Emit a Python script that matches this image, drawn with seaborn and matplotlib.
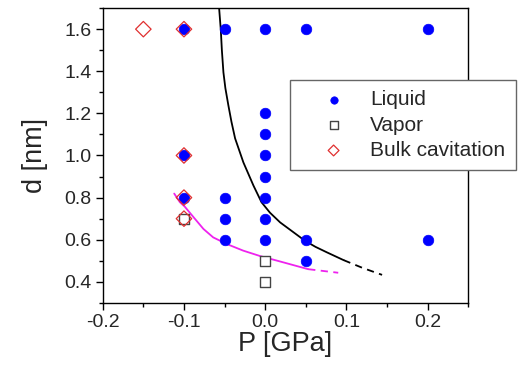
import numpy as np
import pandas as pd
import matplotlib
matplotlib.use("Agg")
import matplotlib.pyplot as plt
from matplotlib.ticker import MultipleLocator
import seaborn as sns

# simulation states (P in GPa, d in nm)
liquid_p = [-0.1, -0.05, 0.0, 0.05, 0.2, 0.0, 0.0, 0.0, 0.0, -0.1,
            0.0, -0.1, -0.05, -0.05, 0.0, -0.05, 0.0, 0.05, 0.05, 0.2]
liquid_d = [1.6, 1.6, 1.6, 1.6, 1.6, 1.2, 1.1, 1.0, 0.9, 1.0,
            0.8, 0.8, 0.8, 0.7, 0.7, 0.6, 0.6, 0.6, 0.5, 0.6]
vapor_p = [-0.1, 0.0, 0.0]
vapor_d = [0.7, 0.5, 0.4]
bulk_p = [-0.15, -0.1, -0.1, -0.1, -0.1]
bulk_d = [1.6, 1.6, 1.0, 0.8, 0.7]

# boundary lines
black_p = [-0.0567, -0.0557, -0.0546, -0.0533, -0.0514, -0.049, -0.0453, -0.0415, -0.037,
           -0.0268, -0.0144, -0.0045, 0.006, 0.0185, 0.035, 0.049, 0.062, 0.076, 0.0966]
black_d = [1.70, 1.65, 1.595, 1.50, 1.395, 1.32, 1.238, 1.16, 1.081,
           0.967, 0.857, 0.778, 0.728, 0.682, 0.635, 0.595, 0.566, 0.54, 0.503]
black_dash_p = [0.0966, 0.12, 0.144]
black_dash_d = [0.503, 0.466, 0.433]
pink_p = [-0.112, -0.105, -0.099, -0.088, -0.076, -0.064, -0.047, -0.027, -0.006, 0.018, 0.053]
pink_d = [0.819, 0.778, 0.757, 0.706, 0.651, 0.611, 0.579, 0.548, 0.522, 0.497, 0.46]
pink_dash_p = [0.053, 0.09]
pink_dash_d = [0.46, 0.443]

sns.set_style("ticks")
plt.rcParams['font.family'] = ['Liberation Sans', 'DejaVu Sans']

fig = plt.figure(figsize=(5.19, 3.68), dpi=100)
ax = fig.add_axes([0.198, 0.177, 0.704, 0.801])

# lines
sns.lineplot(x=black_p, y=black_d, sort=False, estimator=None, color="black", linewidth=1.3, ax=ax)
sns.lineplot(x=black_dash_p, y=black_dash_d, sort=False, estimator=None, color="black",
             linewidth=1.3, linestyle=(0, (4, 3)), ax=ax)
sns.lineplot(x=pink_p, y=pink_d, sort=False, estimator=None, color="#ee22ee", linewidth=1.3, ax=ax)
sns.lineplot(x=pink_dash_p, y=pink_dash_d, sort=False, estimator=None, color="#ee22ee",
             linewidth=1.3, linestyle=(0, (4, 3)), ax=ax)

# points
sns.scatterplot(x=liquid_p, y=liquid_d, marker="o", s=58, color="#0000ff", edgecolor="#0000ff",
                linewidth=0.5, label="Liquid", ax=ax, zorder=3)
sns.scatterplot(x=vapor_p, y=vapor_d, marker="s", s=60, facecolor="white", edgecolor="#444444",
                linewidth=1.0, label="Vapor", ax=ax, zorder=4)
sns.scatterplot(x=bulk_p, y=bulk_d, marker="D", s=62, facecolor="none", edgecolor="#e03030",
                linewidth=0.9, label="Bulk cavitation", ax=ax, zorder=5)

ax.set_xlim(-0.2, 0.25)
ax.set_ylim(0.3, 1.7)
ax.xaxis.set_minor_locator(MultipleLocator(0.05))
ax.yaxis.set_minor_locator(MultipleLocator(0.1))
ax.set_xticks([-0.2, -0.1, 0.0, 0.1, 0.2])
ax.set_xticklabels(["-0.2", "-0.1", "0.0", "0.1", "0.2"])
ax.set_yticks([0.4, 0.6, 0.8, 1.0, 1.2, 1.4, 1.6])
ax.set_yticklabels(["0.4", "0.6", "0.8", "1.0", "1.2", "1.4", "1.6"])
ax.tick_params(axis="both", which="major", direction="out", length=5, width=1, labelsize=14, color="black", pad=3)
ax.tick_params(axis="both", which="minor", direction="out", length=3, width=1, color="black")
for sp in ax.spines.values():
    sp.set_visible(True)
    sp.set_color("black")
    sp.set_linewidth(1.0)
ax.set_xlabel("P [GPa]", fontsize=19.5, labelpad=0)
ax.set_ylabel("d [nm]", fontsize=19.5, labelpad=12)

leg = ax.legend(loc="upper left", bbox_to_anchor=(0.512, 0.756), fontsize=15, frameon=True,
                fancybox=False, edgecolor="#666666", framealpha=1, borderpad=0.5,
                handlelength=3.2, handletextpad=0.15, labelspacing=0.3, markerscale=0.7,
                borderaxespad=0)
leg.get_frame().set_linewidth(1.0)

fig.savefig("out.png", dpi=100)
